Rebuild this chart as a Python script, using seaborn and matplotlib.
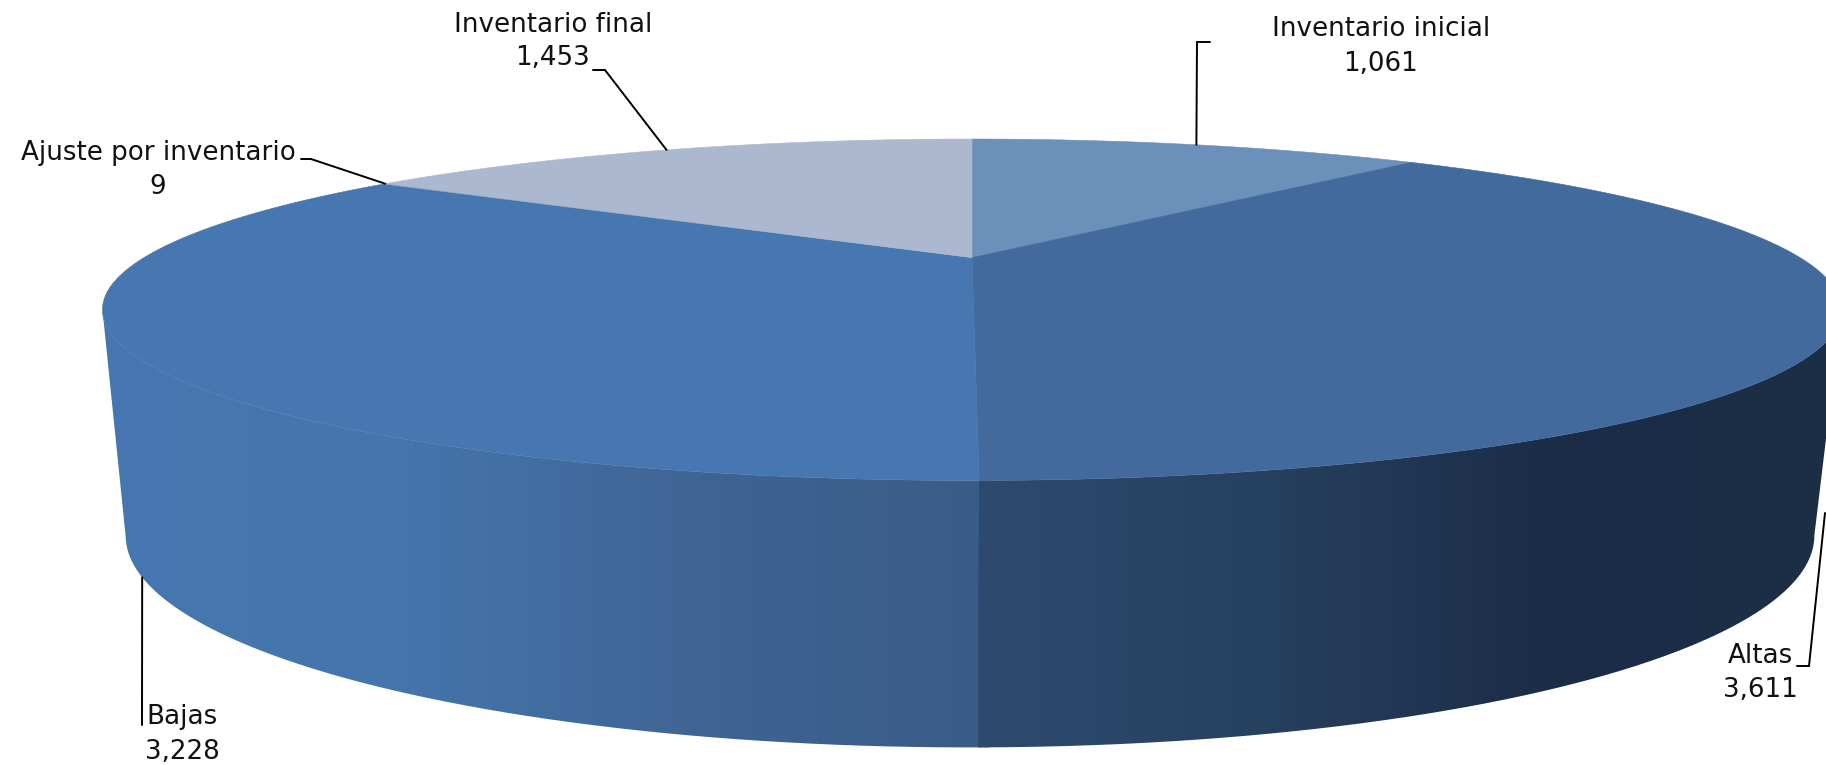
import numpy as np
import matplotlib
matplotlib.use("Agg")
import matplotlib.pyplot as plt
from matplotlib.patches import PathPatch
from matplotlib.path import Path
import seaborn as sns

# donnees du graphique
categorias = ["Inventario inicial", "Altas", "Bajas", "Ajuste por inventario", "Inventario final"]
valores = [1061, 3611, 3228, 9, 1453]

# couleurs
colores_tapa = ["#6B91BB", "#426A9C", "#4677B0", "#8FA5C6", "#ABB8CF"]
degradado_altas = ["#2E4A6E", "#26405F", "#1B2C46", "#1D2F47"]
degradado_bajas = ["#395B87", "#3F6595", "#4575AC", "#4677B0"]

# position des textes (centre x, y nom, y valeur) et coudes des lignes de rappel
pos_textos = [(1381, 29, 64), (1760, 656, 690), (182, 717, 752), (158, 153, 187), (553, 25, 58)]
codos = [[(1197, 42), (1210, 42)], [(1809, 666), (1797, 666)], [(142, 725)],
         [(311, 159), (301, 159)], [(605, 70), (593, 70)]]

sns.set_theme(style="white")
plt.rcParams["font.family"] = ["DejaVu Sans"]

# perspective du disque : plan du dessus et plan du dessous
K = 0.3054
ARRIBA = dict(cx=972, cy=257.6, a=828, b=154.8)
ABAJO = dict(cx=970, cy=471, a=804, b=192)
# angle ou le cote du disque devient tangent au contour
TANGENTE = np.degrees(np.arccos(-K))


def proyectar(theta, plano):
    '''angle en degres (sens horaire depuis le haut) vers pixels de l'image'''
    t = np.radians(theta)
    w = 1 + K * np.cos(t)
    return plano["cx"] + plano["a"] * np.sin(t) / w, plano["cy"] - plano["b"] * np.cos(t) / w


def cara_lateral(t0, t1, paleta, x0, x1):
    '''une portion du cote du disque, degrade horizontal coupe sur le contour'''
    th = np.linspace(t0, t1, 400)
    xs, ys = proyectar(th, ARRIBA)
    xb, yb = proyectar(th[::-1], ABAJO)
    contorno = np.column_stack([np.r_[xs, xb], np.r_[ys, yb]])
    parche = PathPatch(Path(contorno), fc="none", ec="none", transform=ax.transData)
    ax.add_patch(parche)
    img = ax.imshow(np.array(paleta)[None, :, :], extent=[x0, x1, 765, 0], aspect="auto",
                    interpolation="bilinear", zorder=1)
    img.set_clip_path(parche)


fig, ax = plt.subplots(figsize=(18.26, 7.65), dpi=100)
fig.subplots_adjust(0, 0, 1, 1)

bordes = np.concatenate([[0], np.cumsum(valores)]) / sum(valores) * 360
medios = (bordes[:-1] + bordes[1:]) / 2

# cote du disque (bajas dessous, un peu de recouvrement pour ne pas voir de joint)
cara_lateral(bordes[2] - 1, 360 - TANGENTE, sns.blend_palette(degradado_bajas[::-1], 200), 100, 990)
cara_lateral(TANGENTE, bordes[2], sns.blend_palette(degradado_altas, 200), 978, 1842)

# dessus du disque
for i in range(len(valores)):
    th = np.linspace(bordes[i], bordes[i + 1], 200)
    xs, ys = proyectar(th, ARRIBA)
    ax.fill(np.r_[ARRIBA["cx"], xs], np.r_[ARRIBA["cy"], ys], color=colores_tapa[i], lw=0.4, zorder=2)

# lignes de rappel et textes
for i, nombre in enumerate(categorias):
    plano = ABAJO if nombre in ("Altas", "Bajas") else ARRIBA
    xa, ya = proyectar(medios[i], plano)
    if nombre == "Altas":
        # la ligne part du milieu du cote sombre
        xa, ya = 1825, 513
    puntos = [(xa, ya)] + codos[i]
    ax.plot([p[0] for p in puntos], [p[1] for p in puntos], color="black", lw=1.4, zorder=3,
            solid_joinstyle="miter")
    xt, y1, y2 = pos_textos[i]
    ax.text(xt, y1, nombre, ha="center", va="center", fontsize=18.8, color="#111111", zorder=4)
    ax.text(xt, y2, f"{valores[i]:,}", ha="center", va="center", fontsize=18.8, color="#111111", zorder=4)

ax.set_xlim(0, 1826)
ax.set_ylim(765, 0)
ax.axis("off")

fig.savefig("out.png", dpi=100, facecolor="white")
